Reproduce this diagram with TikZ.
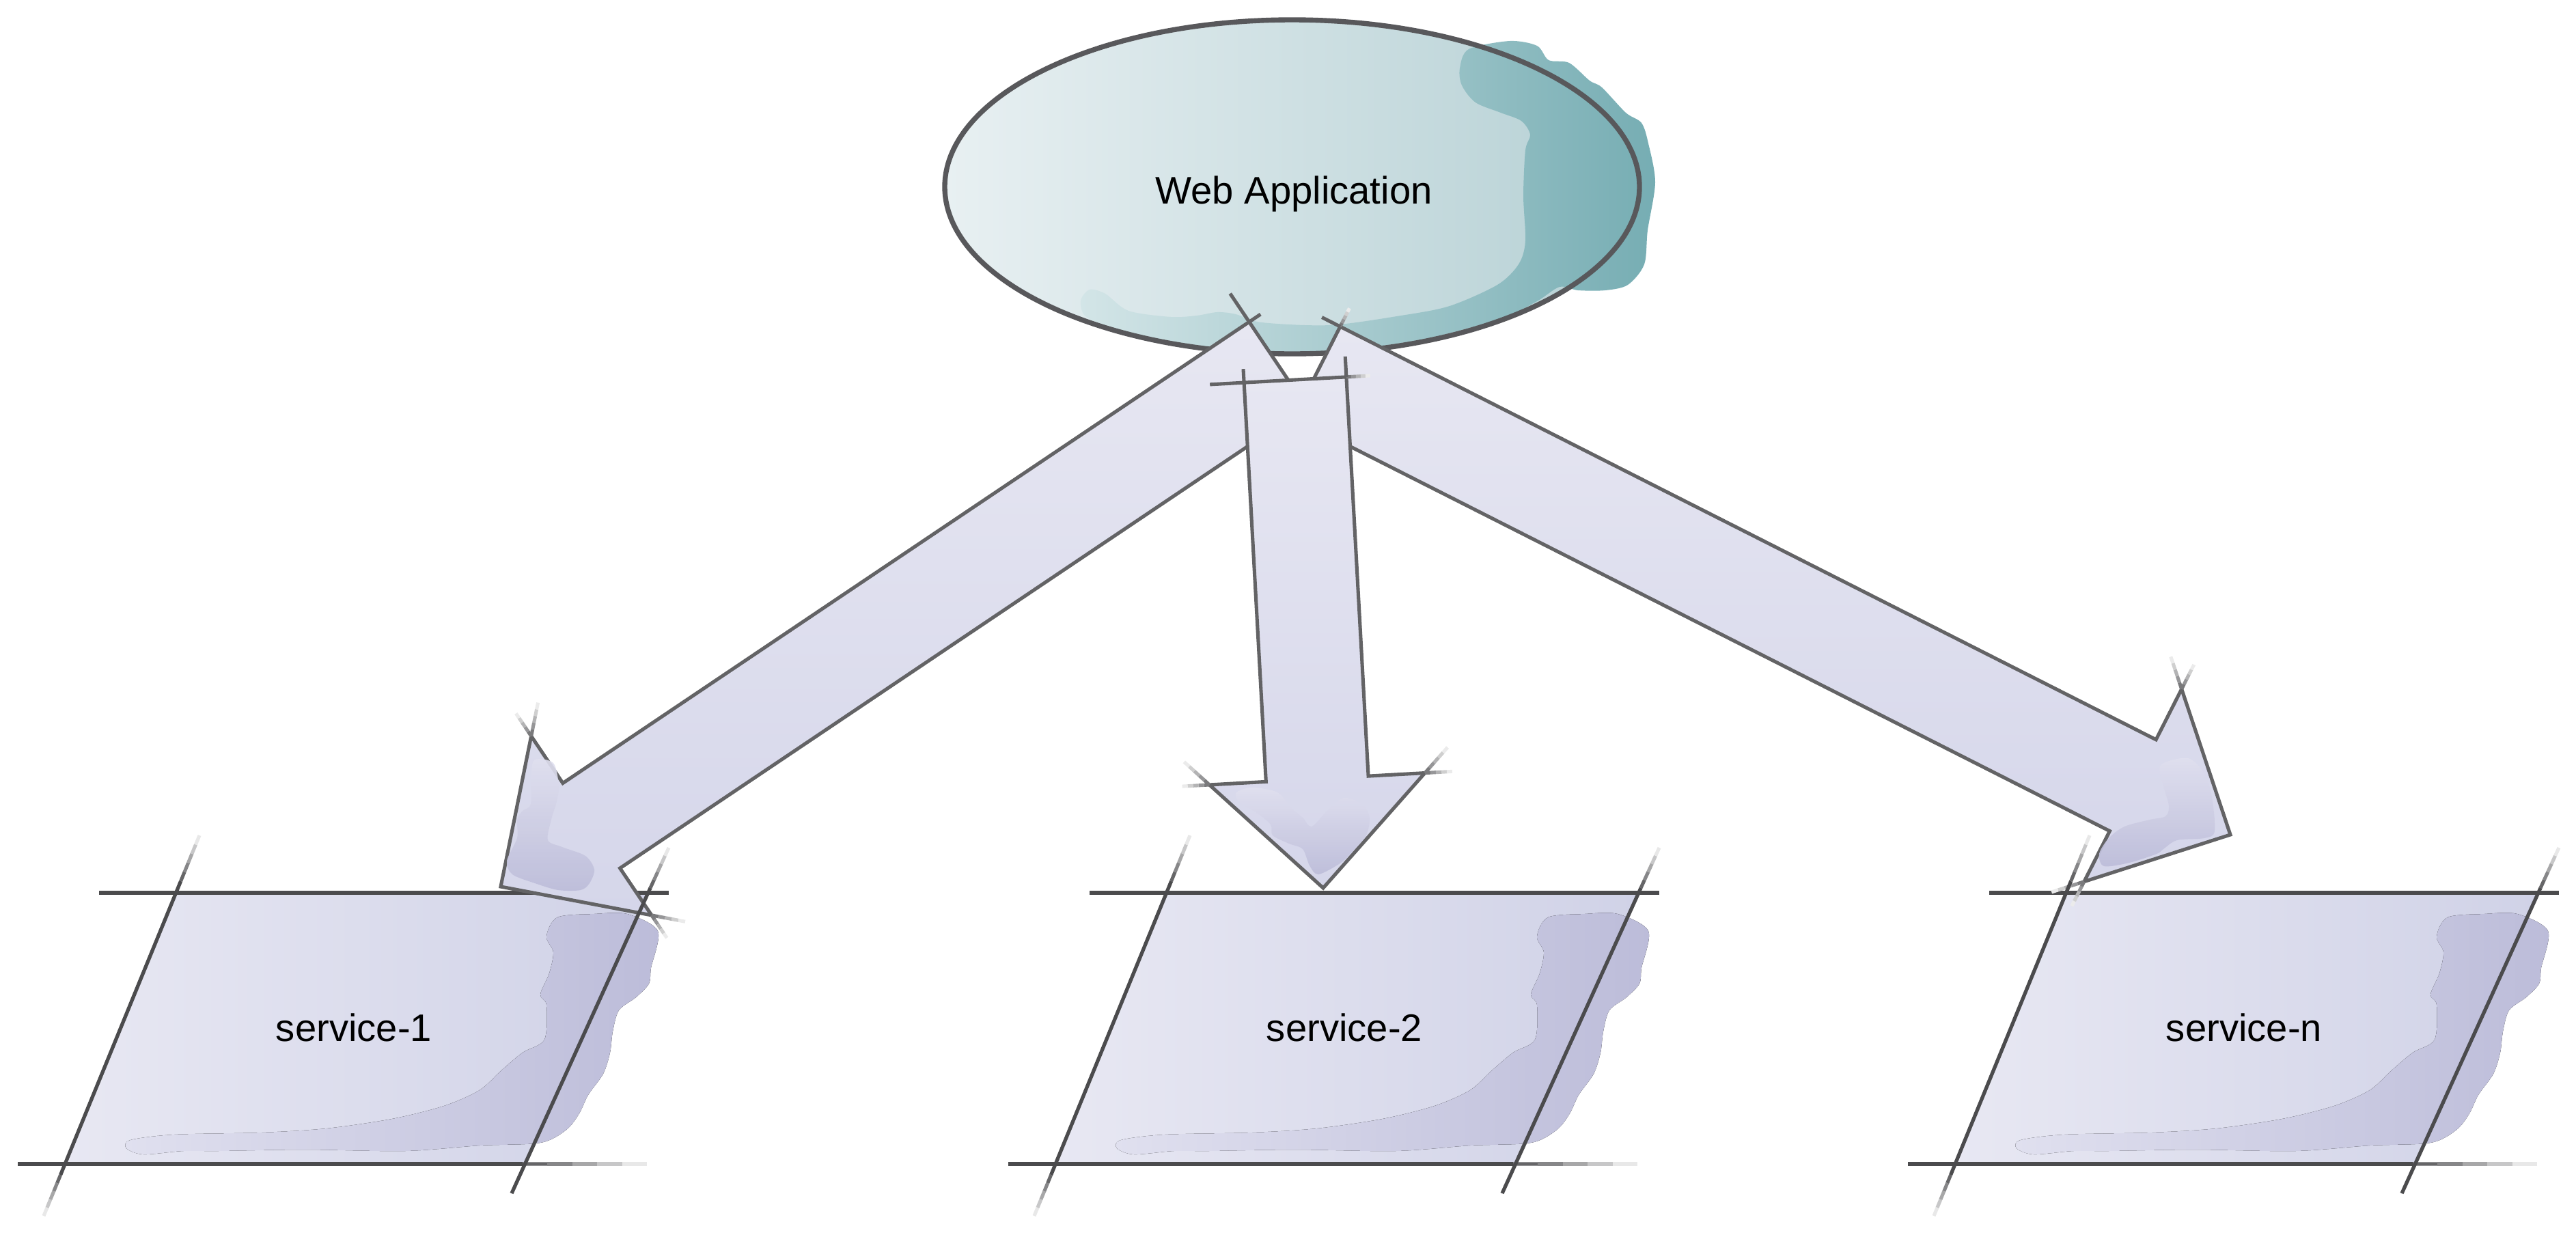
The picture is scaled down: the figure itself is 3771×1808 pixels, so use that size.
\documentclass[tikz,border=0pt]{standalone}
\usepackage{fontspec}
\newfontfamily\labelfont{Liberation Sans}
\usepackage{tikz}
\usetikzlibrary{calc,shapes.geometric}

\definecolor{ellline}{HTML}{58585B}
\definecolor{ellleft}{HTML}{E8F0F2}
\definecolor{ellright}{HTML}{B5D0D4}
\definecolor{tealA}{HTML}{D3E5E7}
\definecolor{tealB}{HTML}{76ADB3}
\definecolor{arrline}{HTML}{636365}
\definecolor{arrtop}{HTML}{E7E7F2}
\definecolor{arrbot}{HTML}{D5D6EA}
\definecolor{blobA}{HTML}{E0E0EF}
\definecolor{blobB}{HTML}{BCBCD9}
\definecolor{svcleft}{HTML}{E8E8F3}
\definecolor{svcright}{HTML}{D0D2E7}
\definecolor{svcdark}{HTML}{4B4B4D}

% stroke that fades out from #2 to #3
\newcommand\fadeseg[3][arrline]{%
  \foreach \k in {0,...,4}{%
    \pgfmathtruncatemacro\fadelvl{85-18*\k}%
    \draw[line width=1.45pt,draw=#1!\fadelvl]
      ($(#2)!0.2*\k!(#3)$) -- ($(#2)!0.2*\k+0.2!(#3)$);}}
% sketchy overshoot past corner #1, away from #2
\newcommand\solidext[3]{\draw[arrowline] (#1) -- ($(#1)!-#3!(#2)$);}
\newcommand\fadeext[3]{\coordinate (fx) at ($(#1)!-#3!(#2)$); \fadeseg{#1}{fx}}

% block arrow: #1 name, #2 start, #3 tip
\newcommand\blockarrow[3]{%
  \coordinate (#1-hb) at ($(#3)!16mm!(#2)$);
  \coordinate (#1-su) at ($(#2)!7.5mm!-90:(#3)$);
  \coordinate (#1-sd) at ($(#2)!7.5mm!90:(#3)$);
  \coordinate (#1-nu) at ($(#1-hb)!7.5mm!-90:(#3)$);
  \coordinate (#1-nd) at ($(#1-hb)!7.5mm!90:(#3)$);
  \coordinate (#1-bu) at ($(#1-hb)!15.8mm!-90:(#3)$);
  \coordinate (#1-bd) at ($(#1-hb)!15.8mm!90:(#3)$);
  \draw[arrowbody] (#1-su) -- (#1-nu) -- (#1-bu) -- (#3) -- (#1-bd)
    -- (#1-nd) -- (#1-sd) -- cycle;}

% service box: #1 name, #2 x offset, #3 label
\newcommand\servicebox[3]{%
  \begin{scope}[shift={(#2,0)}]
    \fill[svcfill] (258,1307) -- (949,1307) -- (769,1704) -- (95,1704) -- cycle;
    \fill[svcblob] plot[smooth cycle,tension=0.5] coordinates {
      (816,1343) (870,1338) (918,1338) (963,1363) (953,1417) (950,1440)
      (931,1460) (906,1479) (897,1510) (893,1541) (883,1572) (861,1603)
      (848,1630) (829,1654) (791,1673) (702,1677) (593,1685) (446,1683)
      (319,1685) (268,1685) (210,1690) (185,1681) (191,1669) (255,1661)
      (383,1658) (478,1652) (574,1638) (650,1619) (702,1596) (733,1568)
      (765,1541) (797,1522) (800,1471) (791,1456) (804,1425) (810,1394)
      (800,1371)};
    \draw[svcline] (145,1307) -- (979,1307);
    \draw[svcline] (26,1704) -- (765,1704);
    \fadeseg[svcdark]{765,1704}{947,1704}
    \node[applabel] (#1) at (518,1524) {#3};
  \end{scope}}
\newcommand\servicesides[1]{%
  \begin{scope}[shift={(#1,0)}]
    \draw[svcline] (264.6,1290) -- (88.6,1720);
    \fadeseg[svcdark]{264.6,1290}{292,1223}
    \fadeseg[svcdark]{88.6,1720}{64,1780}
    \draw[svcline] (952,1300) -- (749,1747);
    \fadeseg[svcdark]{952,1300}{979,1241}
  \end{scope}}

\begin{document}
\begin{tikzpicture}[x=0.1mm,y=-0.1mm,
    appshape/.style={ellipse,minimum width=101.7mm,minimum height=48.9mm,
                     inner sep=0pt,left color=ellleft,right color=ellright},
    appline/.style={draw=ellline,line width=2.1pt},
    applabel/.style={font=\labelfont\fontsize{16}{19}\selectfont,anchor=base,inner sep=0pt},
    arrowbody/.style={draw=arrline,line width=1.45pt,top color=arrtop,bottom color=arrbot},
    arrowline/.style={draw=arrline,line width=1.45pt},
    headblob/.style={top color=blobA,bottom color=blobB,fill opacity=0.9},
    svcfill/.style={left color=svcleft,right color=svcright},
    svcblob/.style={left color=blobA,right color=blobB},
    svcline/.style={draw=svcdark,line width=1.5pt}]
  \useasboundingbox (0,0) rectangle (3771,1808);

  % web application
  \node[appshape] (webapp) at (1891.5,273.5) {};
  \shade[left color=tealA,right color=tealB] plot[smooth cycle,tension=0.5] coordinates {
    (2137,100) (2150,72) (2210,60) (2250,67) (2267,88) (2297,92) (2327,118)
    (2345,128) (2380,165) (2403,180) (2413,210) (2423,267) (2412,337)
    (2407,387) (2383,417) (2350,425) (2310,425) (2283,420) (2250,441)
    (2200,465) (2100,493) (2000,509) (1900,515) (1800,511) (1700,497)
    (1620,477) (1588,462) (1582,440) (1595,424) (1618,430) (1652,455)
    (1714,464) (1752,462) (1782,457) (1809,460) (1847,472) (1947,476)
    (2051,462) (2122,448) (2192,417) (2223,387) (2233,353) (2230,287)
    (2233,220) (2240,197) (2227,177) (2197,165) (2160,150) (2140,125)};
  \draw[appline] (webapp.center) ellipse [x radius=50.85mm,y radius=24.45mm];
  \node[applabel] (applabel) at (1894,298) {Web Application};

  % services
  \servicebox{svc1}{0}{service-1}
  \servicebox{svc2}{1450}{service-2}
  \servicebox{svcn}{2767}{service-n}

  % arrows
  \coordinate (la-start) at (1870.5,533.5);
  \coordinate (la-tip) at (733,1298);
  \coordinate (ra-start) at (1928,545);
  \coordinate (ra-tip) at (3265,1222);
  \coordinate (ma-start) at (1896,556);
  \coordinate (ma-tip) at (1937,1300);
  \blockarrow{la}{la-start}{la-tip}
  \blockarrow{ra}{ra-start}{ra-tip}
  \blockarrow{ma}{ma-start}{ma-tip}

  % shading inside the heads
  \shade[headblob] plot[smooth cycle,tension=0.5] coordinates {
    (783,1112) (810,1117) (818,1150) (815,1173) (807,1200) (802,1230)
    (823,1240) (857,1253) (870,1273) (863,1293) (850,1303) (817,1303)
    (783,1293) (750,1280) (742,1260) (757,1227) (757,1200) (765,1187)
    (777,1177) (778,1133)};
  \shade[headblob] plot[smooth cycle,tension=0.5] coordinates {
    (1810,1160) (1833,1153) (1870,1160) (1890,1183) (1907,1197) (1920,1210)
    (1943,1187) (1967,1168) (1993,1177) (2005,1197) (2000,1223) (1983,1243)
    (1963,1263) (1930,1280) (1917,1267) (1907,1243) (1887,1235) (1863,1223)
    (1860,1207) (1840,1190) (1813,1173)};
  \shade[headblob] plot[smooth cycle,tension=0.5] coordinates {
    (3163,1120) (3203,1110) (3227,1133) (3238,1167) (3242,1217) (3227,1227)
    (3187,1230) (3167,1243) (3157,1250) (3117,1263) (3080,1268) (3073,1250)
    (3087,1227) (3110,1210) (3147,1200) (3170,1195) (3175,1180) (3167,1150)};

  % sketch overshoots
  \solidext{la-su}{la-sd}{5mm}
  \solidext{la-su}{la-nu}{2mm}
  \fadeext{ra-sd}{ra-su}{3mm}
  \solidext{ra-sd}{ra-nd}{3mm}
  \solidext{ma-su}{ma-sd}{5mm}
  \fadeext{ma-sd}{ma-su}{3.5mm}
  \solidext{ma-su}{ma-nu}{2mm}
  \solidext{ma-sd}{ma-nd}{3mm}
  \foreach \a in {la,ma,ra}{
    \fadeext{\a-bu}{\a-nu}{4mm}
    \fadeext{\a-bu}{\a-tip}{5mm}
    \fadeext{\a-bd}{\a-nd}{4mm}
    \fadeext{\a-bd}{\a-tip}{5mm}}

  % slanted sides of the services
  \servicesides{0}
  \servicesides{1450}
  \servicesides{2767}
\end{tikzpicture}
\end{document}
